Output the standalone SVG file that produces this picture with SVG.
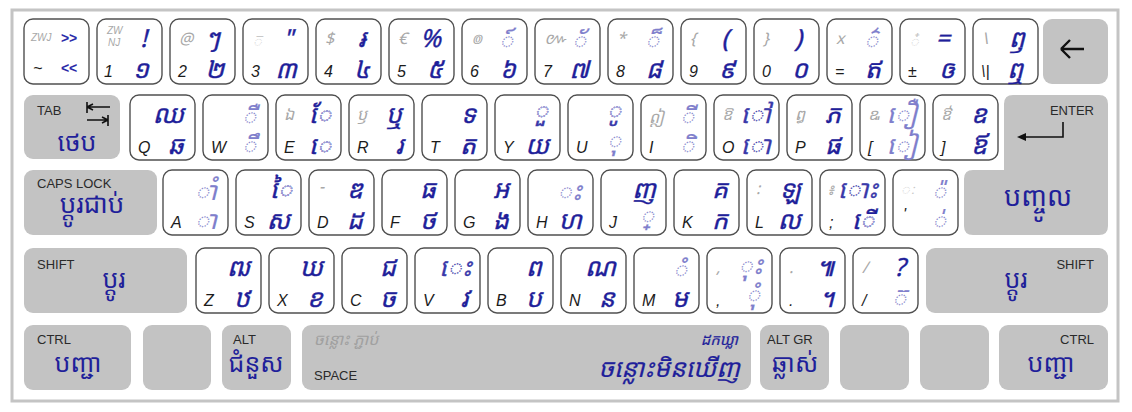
<svg xmlns="http://www.w3.org/2000/svg" width="1132" height="412" viewBox="0 0 1132 412">
<style>
.k{fill:#fff;stroke:#505050;stroke-width:1.4}
.g{fill:#c3c3c3}
.bl{font-family:"Liberation Sans",sans-serif;font-style:italic;font-size:16px;fill:#1c1c1c}
.tl{font-family:"Noto Sans Khmer","Khmer OS","Liberation Sans",sans-serif;font-style:italic;font-size:16px;fill:#a8a8a8}
.sm{font-family:"Liberation Sans",sans-serif;font-style:italic;font-size:10px;fill:#a8a8a8}
.tr{font-family:"Noto Sans Khmer","Khmer OS","Liberation Sans",sans-serif;font-style:italic;font-size:25px;fill:#1f1f9a;text-anchor:end;stroke:#1f1f9a;stroke-width:0.4}
.la{font-family:"Liberation Sans",sans-serif;font-style:italic;font-weight:bold;font-size:14px;fill:#2a2aa8;text-anchor:end}
.lt{fill:#7f7fcc;stroke:#7f7fcc;stroke-width:0.2}
.md{fill:#3a3aaa;stroke:#3a3aaa;stroke-width:0.3}
.ov{fill:#a3a3da;stroke:#a3a3da;stroke-width:0.6}
.lb{font-family:"Liberation Sans",sans-serif;font-size:13px;fill:#2a2a2a}
.mod{font-family:"Noto Sans Khmer","Khmer OS","Liberation Sans",sans-serif;font-size:25px;fill:#1f1f9a;text-anchor:middle}
.ar{fill:none;stroke:#111;stroke-width:1.6}
</style>
<rect x="0" y="0" width="1132" height="412" fill="#fff"/>
<rect x="12" y="10" width="1106" height="391" fill="none" stroke="#c4c4c4" stroke-width="3"/>

<!-- Row 1 -->
<g id="key-grave" transform="translate(24,19)"><rect class="k" width="65" height="65" rx="9"/><text class="sm" x="7" y="22">ZWJ</text><text class="la" x="53" y="24">&gt;&gt;</text><text class="bl" x="9" y="55">~</text><text class="la" x="53" y="54">&lt;&lt;</text></g>
<g id="key-1" transform="translate(97,19)"><rect class="k" width="65" height="65" rx="9"/><text class="sm" x="10" y="15">ZW</text><text class="sm" x="11" y="27">NJ</text><text class="tr" x="50" y="28">!</text><text class="bl" x="7" y="58">1</text><text class="tr" x="52" y="59">១</text></g>
<g id="key-2" transform="translate(170,19)"><rect class="k" width="65" height="65" rx="9"/><text class="tl" x="9" y="25">@</text><text class="tr" x="50" y="28">ៗ</text><text class="bl" x="8" y="58">2</text><text class="tr" x="54" y="59">២</text></g>
<g id="key-3" transform="translate(243,19)"><rect class="k" width="65" height="65" rx="9"/><text class="tl" x="9" y="28" style="fill:#c8c8c8">◌៑</text><text class="tr" x="50" y="28">"</text><text class="bl" x="8" y="58">3</text><text class="tr" x="54" y="59">៣</text></g>
<g id="key-4" transform="translate(316,19)"><rect class="k" width="65" height="65" rx="9"/><text class="tl" x="9" y="25">$</text><text class="tr" x="50" y="28">៛</text><text class="bl" x="8" y="58">4</text><text class="tr" x="54" y="59">៤</text></g>
<g id="key-5" transform="translate(389,19)"><rect class="k" width="65" height="65" rx="9"/><text class="tl" x="9" y="25">€</text><text class="tr" x="52" y="28">%</text><text class="bl" x="8" y="58">5</text><text class="tr" x="54" y="59">៥</text></g>
<g id="key-6" transform="translate(462,19)"><rect class="k" width="65" height="65" rx="9"/><text class="tl" x="9" y="25">៙</text><text class="tr lt" x="52" y="30">◌៍</text><text class="bl" x="8" y="58">6</text><text class="tr" x="54" y="59">៦</text></g>
<g id="key-7" transform="translate(535,19)"><rect class="k" width="65" height="65" rx="9"/><text class="tl" x="9" y="25">៚</text><text class="tr lt" x="52" y="30">◌័</text><text class="bl" x="8" y="58">7</text><text class="tr" x="54" y="59">៧</text></g>
<g id="key-8" transform="translate(608,19)"><rect class="k" width="65" height="65" rx="9"/><text class="tl" x="9" y="25">*</text><text class="tr lt" x="52" y="30">◌៏</text><text class="bl" x="8" y="58">8</text><text class="tr" x="54" y="59">៨</text></g>
<g id="key-9" transform="translate(681,19)"><rect class="k" width="65" height="65" rx="9"/><text class="tl" x="9" y="25">{</text><text class="tr" x="48" y="28">(</text><text class="bl" x="8" y="58">9</text><text class="tr" x="54" y="59">៩</text></g>
<g id="key-0" transform="translate(754,19)"><rect class="k" width="65" height="65" rx="9"/><text class="tl" x="9" y="25">}</text><text class="tr" x="48" y="28">)</text><text class="bl" x="8" y="58">0</text><text class="tr" x="54" y="59">០</text></g>
<g id="key-minus" transform="translate(827,19)"><rect class="k" width="65" height="65" rx="9"/><text class="tl" x="9" y="25">x</text><text class="tr lt" x="52" y="30">◌៌</text><text class="bl" x="8" y="58">=</text><text class="tr" x="54" y="59">ឥ</text></g>
<g id="key-equal" transform="translate(900,19)"><rect class="k" width="65" height="65" rx="9"/><text class="tl" x="9" y="28" style="fill:#c8c8c8">◌៎</text><text class="tr" x="50" y="28">=</text><text class="bl" x="8" y="58">±</text><text class="tr" x="54" y="59">ឲ</text></g>
<g id="key-backslash" transform="translate(973,19)"><rect class="k" width="65" height="65" rx="9"/><text class="tl" x="9" y="25">\</text><text class="tr" x="52" y="28">ឭ</text><text class="bl" x="8" y="58">\|</text><text class="tr" x="52" y="59">ឮ</text></g>
<g id="key-backspace" transform="translate(1043,19)"><rect class="g" width="65" height="65" rx="9"/><path d="M18,30 H41 M18,30 L27,21 M18,30 L27,39" fill="none" stroke="#111" stroke-width="2.4"/></g>

<!-- Row 2 -->
<g id="key-tab" transform="translate(24,95)"><rect class="g" width="96" height="64" rx="9"/><text class="lb" x="13" y="20">TAB</text><path class="ar" d="M63,7 V18 M63,12 H86 M63,12 L69,9 M63,12 L69,15 M84,20 V31 M63,25 H84 M84,25 L78,22 M84,25 L78,28"/><text class="mod" x="53" y="56">ថេប</text></g>
<g id="key-q" transform="translate(130,95)"><rect class="k" width="65" height="65" rx="9"/><text class="tr" x="54" y="28">ឈ</text><text class="bl" x="8" y="58">Q</text><text class="tr" x="54" y="59">ឆ</text></g>
<g id="key-w" transform="translate(203,95)"><rect class="k" width="65" height="65" rx="9"/><text class="tr lt" x="54" y="30">◌ឺ</text><text class="bl" x="8" y="58">W</text><text class="tr lt" x="54" y="59">◌ឹ</text></g>
<g id="key-e" transform="translate(276,95)"><rect class="k" width="65" height="65" rx="9"/><text class="tl" x="8" y="25">ឯ</text><text class="tr" x="56" y="28">◌ែ</text><text class="tr ov" x="56" y="28">◌</text><text class="bl" x="8" y="58">E</text><text class="tr" x="56" y="59">◌េ</text><text class="tr ov" x="56" y="59">◌</text></g>
<g id="key-r" transform="translate(349,95)"><rect class="k" width="65" height="65" rx="9"/><text class="tl" x="8" y="25">ឫ</text><text class="tr" x="54" y="28">ឬ</text><text class="bl" x="8" y="58">R</text><text class="tr" x="54" y="59">រ</text></g>
<g id="key-t" transform="translate(422,95)"><rect class="k" width="65" height="65" rx="9"/><text class="tr" x="54" y="28">ទ</text><text class="bl" x="8" y="58">T</text><text class="tr" x="54" y="59">ត</text></g>
<g id="key-y" transform="translate(495,95)"><rect class="k" width="65" height="65" rx="9"/><text class="tr md" x="54" y="24">◌ួ</text><text class="tr ov" x="54" y="24">◌</text><text class="bl" x="8" y="58">Y</text><text class="tr" x="54" y="59">យ</text></g>
<g id="key-u" transform="translate(568,95)"><rect class="k" width="65" height="65" rx="9"/><text class="tr md" x="54" y="24">◌ូ</text><text class="tr ov" x="54" y="24">◌</text><text class="bl" x="8" y="58">U</text><text class="tr lt" x="54" y="54">◌ុ</text></g>
<g id="key-i" transform="translate(641,95)"><rect class="k" width="65" height="65" rx="9"/><text class="tl" x="8" y="28">ឦ</text><text class="tr lt" x="54" y="30">◌ី</text><text class="bl" x="8" y="58">I</text><text class="tr lt" x="54" y="59">◌ិ</text></g>
<g id="key-o" transform="translate(714,95)"><rect class="k" width="65" height="65" rx="9"/><text class="tl" x="8" y="25">ឱ</text><text class="tr md" x="57" y="28">◌ៅ</text><text class="bl" x="8" y="58">O</text><text class="tr md" x="57" y="59">◌ោ</text></g>
<g id="key-p" transform="translate(787,95)"><rect class="k" width="65" height="65" rx="9"/><text class="tl" x="8" y="25">ឰ</text><text class="tr" x="54" y="28">ភ</text><text class="bl" x="8" y="58">P</text><text class="tr" x="54" y="59">ផ</text></g>
<g id="key-lbracket" transform="translate(860,95)"><rect class="k" width="65" height="65" rx="9"/><text class="tl" x="8" y="25">ឩ</text><text class="tr lt" x="57" y="28">◌ឿ</text><text class="bl" x="8" y="58">[</text><text class="tr lt" x="57" y="59">◌ៀ</text></g>
<g id="key-rbracket" transform="translate(933,95)"><rect class="k" width="65" height="65" rx="9"/><text class="tl" x="8" y="25">ឳ</text><text class="tr" x="54" y="28">ឧ</text><text class="bl" x="8" y="58">]</text><text class="tr" x="54" y="59">ឪ</text></g>
<g id="key-enter"><path class="g" d="M1013,95 H1099 Q1108,95 1108,104 V226 Q1108,235 1099,235 H973 Q964,235 964,226 V179 Q964,170 973,170 H1004 V104 Q1004,95 1013,95 Z"/><text class="lb" x="1094" y="115" text-anchor="end">ENTER</text><path class="ar" d="M1063,122 V137 H1022"/><path d="M1017,137 L1026,133 L1026,141 Z" fill="#111"/><text class="mod" x="1038" y="206" style="font-size:27px">បញ្ចូល</text></g>

<!-- Row 3 -->
<g id="key-caps" transform="translate(24,170)"><rect class="g" width="133" height="65" rx="9"/><text class="lb" x="13" y="18">CAPS LOCK</text><text class="mod" x="68" y="43" style="font-size:26px">ប្តូរជាប់</text></g>
<g id="key-a" transform="translate(163,170)"><rect class="k" width="65" height="65" rx="9"/><text class="tr lt" x="54" y="30">◌ាំ</text><text class="bl" x="8" y="58">A</text><text class="tr lt" x="54" y="59">◌ា</text></g>
<g id="key-s" transform="translate(236,170)"><rect class="k" width="65" height="65" rx="9"/><text class="tr" x="57" y="28">◌ៃ</text><text class="tr ov" x="57" y="28">◌</text><text class="bl" x="8" y="58">S</text><text class="tr" x="54" y="59">ស</text></g>
<g id="key-d" transform="translate(309,170)"><rect class="k" width="65" height="65" rx="9"/><text class="tl" x="10" y="22">-</text><text class="tr" x="54" y="28">ឌ</text><text class="bl" x="8" y="58">D</text><text class="tr" x="54" y="59">ដ</text></g>
<g id="key-f" transform="translate(382,170)"><rect class="k" width="65" height="65" rx="9"/><text class="tr" x="54" y="28">ធ</text><text class="bl" x="8" y="58">F</text><text class="tr" x="54" y="59">ថ</text></g>
<g id="key-g" transform="translate(455,170)"><rect class="k" width="65" height="65" rx="9"/><text class="tr" x="54" y="28">អ</text><text class="bl" x="8" y="58">G</text><text class="tr" x="54" y="59">ង</text></g>
<g id="key-h" transform="translate(528,170)"><rect class="k" width="65" height="65" rx="9"/><text class="tr lt" x="54" y="30">◌ះ</text><text class="bl" x="8" y="58">H</text><text class="tr" x="54" y="59">ហ</text></g>
<g id="key-j" transform="translate(601,170)"><rect class="k" width="65" height="65" rx="9"/><text class="tr" x="55" y="28">ញ</text><text class="bl" x="8" y="58">J</text><text class="tr lt" x="54" y="54">◌្</text></g>
<g id="key-k" transform="translate(674,170)"><rect class="k" width="65" height="65" rx="9"/><text class="tr" x="54" y="28">គ</text><text class="bl" x="8" y="58">K</text><text class="tr" x="54" y="59">ក</text></g>
<g id="key-l" transform="translate(747,170)"><rect class="k" width="65" height="65" rx="9"/><text class="tl" x="9" y="24">:</text><text class="tr" x="54" y="28">ឡ</text><text class="bl" x="8" y="58">L</text><text class="tr" x="54" y="59">ល</text></g>
<g id="key-semicolon" transform="translate(820,170)"><rect class="k" width="65" height="65" rx="9"/><text class="tl" x="7" y="25">៖</text><text class="tr md" x="58" y="28">◌ោះ</text><text class="bl" x="9" y="58">;</text><text class="tr" x="55" y="59">◌ើ</text><text class="tr ov" x="55" y="59">◌</text></g>
<g id="key-quote" transform="translate(893,170)"><rect class="k" width="65" height="65" rx="9"/><text class="tl" x="7" y="25" style="fill:#c8c8c8">◌ៈ</text><text class="tr lt" x="54" y="30">◌៉</text><text class="bl" x="10" y="50">'</text><text class="tr lt" x="54" y="59">◌់</text></g>

<!-- Row 4 -->
<g id="key-lshift" transform="translate(24,248)"><rect class="g" width="163" height="65" rx="9"/><text class="lb" x="13" y="21">SHIFT</text><text class="mod" x="90" y="40">ប្តូរ</text></g>
<g id="key-z" transform="translate(196,248)"><rect class="k" width="65" height="65" rx="9"/><text class="tr" x="54" y="28">ឍ</text><text class="bl" x="8" y="58">Z</text><text class="tr" x="54" y="59">ឋ</text></g>
<g id="key-x" transform="translate(269,248)"><rect class="k" width="65" height="65" rx="9"/><text class="tr" x="54" y="28">ឃ</text><text class="bl" x="8" y="58">X</text><text class="tr" x="54" y="59">ខ</text></g>
<g id="key-c" transform="translate(342,248)"><rect class="k" width="65" height="65" rx="9"/><text class="tr" x="54" y="28">ជ</text><text class="bl" x="8" y="58">C</text><text class="tr" x="54" y="59">ច</text></g>
<g id="key-v" transform="translate(415,248)"><rect class="k" width="65" height="65" rx="9"/><text class="tr md" x="57" y="28">◌េះ</text><text class="bl" x="8" y="58">V</text><text class="tr" x="54" y="59">វ</text></g>
<g id="key-b" transform="translate(488,248)"><rect class="k" width="65" height="65" rx="9"/><text class="tr" x="54" y="28">ព</text><text class="bl" x="8" y="58">B</text><text class="tr" x="54" y="59">ប</text></g>
<g id="key-n" transform="translate(561,248)"><rect class="k" width="65" height="65" rx="9"/><text class="tr" x="55" y="28">ណ</text><text class="bl" x="8" y="58">N</text><text class="tr" x="54" y="59">ន</text></g>
<g id="key-m" transform="translate(634,248)"><rect class="k" width="65" height="65" rx="9"/><text class="tr lt" x="54" y="30">◌ំ</text><text class="bl" x="8" y="58">M</text><text class="tr" x="54" y="59">ម</text></g>
<g id="key-comma" transform="translate(707,248)"><rect class="k" width="65" height="65" rx="9"/><text class="tl" x="9" y="25">,</text><text class="tr lt" x="56" y="26">◌ុះ</text><text class="bl" x="9" y="58">,</text><text class="tr lt" x="54" y="55">◌ុំ</text></g>
<g id="key-period" transform="translate(780,248)"><rect class="k" width="65" height="65" rx="9"/><text class="tl" x="9" y="25">.</text><text class="tr" x="54" y="28">៕</text><text class="bl" x="9" y="58">.</text><text class="tr" x="54" y="59">។</text></g>
<g id="key-slash" transform="translate(853,248)"><rect class="k" width="65" height="65" rx="9"/><text class="tl" x="9" y="25">/</text><text class="tr" x="52" y="28">?</text><text class="bl" x="9" y="58">/</text><text class="tr lt" x="54" y="59">◌៊</text></g>
<g id="key-rshift" transform="translate(926,248)"><rect class="g" width="182" height="65" rx="9"/><text class="lb" x="168" y="21" text-anchor="end">SHIFT</text><text class="mod" x="90" y="40">ប្តូរ</text></g>

<!-- Row 5 -->
<g id="key-lctrl" transform="translate(24,325)"><rect class="g" width="107" height="65" rx="9"/><text class="lb" x="13" y="19">CTRL</text><text class="mod" x="54" y="47">បញ្ជា</text></g>
<g id="key-lwin" transform="translate(143,325)"><rect class="g" width="68" height="65" rx="9"/></g>
<g id="key-alt" transform="translate(222,325)"><rect class="g" width="69" height="65" rx="9"/><text class="lb" x="11" y="19">ALT</text><text class="mod" x="34" y="47">ជំនួស</text></g>
<g id="key-space" transform="translate(302,325)"><rect class="g" width="449" height="65" rx="9"/><text class="tl" x="12" y="20" style="fill:#a0a0a0">ចន្លោះ ភ្ជាប់</text><text class="tr" x="436" y="20" style="font-size:15px;stroke-width:0.2">ដកឃ្លា</text><text class="lb" x="12" y="55">SPACE</text><text class="tr" x="438" y="52" style="stroke-width:0.2">ចន្លោះមិនឃើញ</text></g>
<g id="key-altgr" transform="translate(760,325)"><rect class="g" width="69" height="65" rx="9"/><text class="lb" x="7" y="19">ALT GR</text><text class="mod" x="35" y="47">ឆ្លាស់</text></g>
<g id="key-rwin" transform="translate(840,325)"><rect class="g" width="69" height="65" rx="9"/></g>
<g id="key-menu" transform="translate(920,325)"><rect class="g" width="69" height="65" rx="9"/></g>
<g id="key-rctrl" transform="translate(999,325)"><rect class="g" width="109" height="65" rx="9"/><text class="lb" x="95" y="19" text-anchor="end">CTRL</text><text class="mod" x="52" y="47">បញ្ជា</text></g>
</svg>
